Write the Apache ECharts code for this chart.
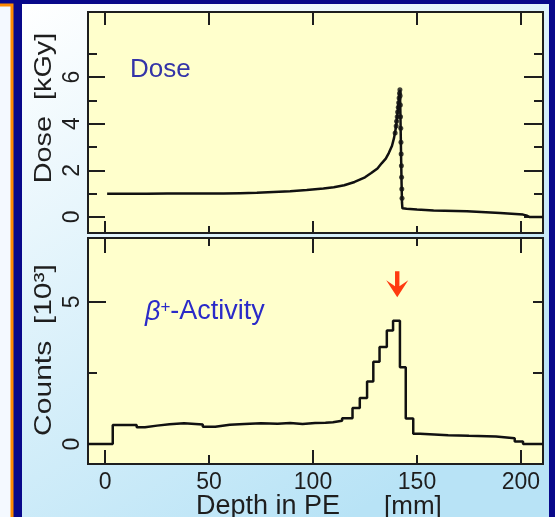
<!DOCTYPE html>
<html>
<head>
<meta charset="utf-8">
<script src="https://cdn.jsdelivr.net/npm/echarts@6/dist/echarts.min.js"></script>
<style>
html,body{margin:0;padding:0;background:#08088a;}
#main{width:555px;height:517px;}
</style>
</head>
<body>
<div id="main"></div>
<script>
// dose profile (upper panel), depth in mm
var depthDose = [1, 10, 20, 30, 40, 50, 57, 65, 73, 81, 89, 97, 105, 110, 115, 120, 125, 128, 131, 133, 135, 136.5, 138, 139, 139.8, 140.5, 141, 141.5, 141.8, 142, 142.2, 142.4, 142.6, 142.8, 143, 145, 150, 158, 174, 190, 201, 203, 204, 210.6];
var dose = [0.99, 0.99, 0.99, 1.0, 1.0, 1.0, 1.0, 1.02, 1.04, 1.07, 1.1, 1.15, 1.22, 1.27, 1.36, 1.5, 1.7, 1.88, 2.08, 2.3, 2.5, 2.75, 3.05, 3.4, 3.8, 4.3, 4.8, 5.2, 5.45, 4.6, 3.5, 2.4, 1.4, 0.6, 0.37, 0.35, 0.32, 0.28, 0.24, 0.17, 0.1, 0.05, 0.0, 0.0];
// measured points crowded round the peak
var peakX = [139.5, 140, 140.2, 140.5, 140.7, 141, 141.2, 141.4, 141.6, 141.8, 141.9, 142, 142.1, 142.2, 142.3, 142.4, 142.5, 142.6, 142.7, 142.8];
var peakY = [3.6, 3.9, 4.1, 4.3, 4.5, 4.7, 4.9, 5.1, 5.3, 5.45, 5.2, 4.8, 4.3, 3.8, 3.2, 2.7, 2.2, 1.7, 1.2, 0.8];

// beta+ activity histogram (lower panel): left bin edge, counts [10^3]
var binEdge = [-8.2, 3.7, 15.2, 19.2, 25, 31, 38, 47, 53, 60, 67, 75, 83, 89, 95, 101, 106, 109.6, 114, 119, 122.5, 126, 129, 132, 135.5, 138.5, 141.8, 144.6, 148.2, 151.5, 165, 175, 188, 197, 201, 210.6];
var counts = [0.0, 0.67, 0.59, 0.65, 0.70, 0.73, 0.69, 0.61, 0.68, 0.71, 0.73, 0.72, 0.74, 0.71, 0.74, 0.75, 0.77, 0.82, 0.91, 1.27, 1.62, 2.2, 2.9, 3.42, 4.0, 4.34, 2.7, 0.9, 0.36, 0.31, 0.29, 0.27, 0.21, 0.09, 0.0, 0.0];

var xMajor = [0, 100, 200];
var xMinor = [50, 150];
var xLabels = [0, 50, 100, 150, 200];
var doseMajor = [0, 2, 4, 6];
var doseMinor = [1, 3, 5, 7];
var cntMajor = [0, 5];
var cntMinor = [2.5];
var cntRight = [2.5, 5];

var arrowAt = [140.5, 5.62];

var txt = '#1e1e1e';
var font = 'Liberation Sans, Arial, sans-serif';

function zip(a, b) {
    var out = [];
    for (var i = 0; i < a.length; i++) out.push([a[i], b[i]]);
    return out;
}

function xAx(grid, pos, ticks, len, labels) {
    return {
        type: 'value', gridIndex: grid, position: pos, min: -8.2, max: 210.6,
        axisLine: {show: false, onZero: false}, splitLine: {show: false},
        axisTick: {show: true, inside: true, length: len, customValues: ticks,
            lineStyle: {color: txt, width: 2}},
        axisLabel: labels ? {show: true, customValues: labels, margin: 7,
            fontSize: 23, color: txt, fontFamily: font} : {show: false}
    };
}

function yAx(grid, pos, min, max, ticks, len, labels) {
    return {
        type: 'value', gridIndex: grid, position: pos, min: min, max: max,
        axisLine: {show: false, onZero: false}, splitLine: {show: false},
        axisTick: {show: true, inside: true, length: len, customValues: ticks,
            lineStyle: {color: txt, width: 2}},
        axisLabel: labels ? {show: true, customValues: labels, rotate: 90, margin: 4,
            fontSize: 23, color: txt, fontFamily: font} : {show: false}
    };
}

var myChart = echarts.init(document.getElementById('main'));
var option = {
    backgroundColor: '#08088a',
    animation: false,
    graphic: [
        {type: 'rect', z: -10, shape: {x: -4, y: 5, width: 16, height: 520},
            style: {fill: '#f4f9ff', stroke: '#ff8a00', lineWidth: 3}},
        {type: 'rect', z: -10, shape: {x: 22, y: 4, width: 527, height: 520},
            style: {fill: {type: 'linear', x: 0, y: 0, x2: 0.6, y2: 1,
                colorStops: [{offset: 0, color: '#ffffff'}, {offset: 1, color: '#b8e3f6'}]}}},
        {type: 'text', z: 50, x: 44, y: 108, rotation: Math.PI / 2, scaleX: 1.2,
            style: {text: 'Dose  [kGy]', fill: txt, font: '24px ' + font,
                textAlign: 'center', textVerticalAlign: 'middle'}},
        {type: 'text', z: 50, x: 44, y: 350, rotation: Math.PI / 2, scaleX: 1.25,
            style: {text: 'Counts  [10³]', fill: txt, font: '24px ' + font,
                textAlign: 'center', textVerticalAlign: 'middle'}},
        {type: 'text', z: 50, x: 196, y: 507,
            style: {text: 'Depth in PE', fill: txt, font: '27px ' + font,
                textVerticalAlign: 'middle'}},
        {type: 'text', z: 50, x: 384, y: 507,
            style: {text: '[mm]', fill: txt, font: '26px ' + font,
                textVerticalAlign: 'middle'}},
        {type: 'text', z: 50, x: 130, y: 70,
            style: {text: 'Dose', fill: '#3434a8', font: '26px ' + font,
                textVerticalAlign: 'middle'}},
        {type: 'text', z: 50, x: 145, y: 312,
            style: {text: '{b|β}{s|+}{n|-Activity}', textVerticalAlign: 'middle',
                rich: {
                    b: {fill: '#2a2ac8', font: 'italic 27px ' + font},
                    s: {fill: '#2a2ac8', font: '17px ' + font, verticalAlign: 'top', padding: [0, 0, 8, 0]},
                    n: {fill: '#2a2ac8', font: '27px ' + font}
                }}}
    ],
    grid: [
        {left: 88, right: 12, top: 12, height: 221, show: true,
            backgroundColor: '#ffffcc', borderColor: '#1e1e1e', borderWidth: 2},
        {left: 88, right: 12, top: 238, height: 226, show: true,
            backgroundColor: '#ffffcc', borderColor: '#1e1e1e', borderWidth: 2}
    ],
    xAxis: [
        xAx(0, 'bottom', xMajor, 12),
        xAx(0, 'bottom', xMinor, 7),
        xAx(0, 'top', xLabels, 13),
        xAx(1, 'top', xMajor, 15),
        xAx(1, 'top', xMinor, 8),
        xAx(1, 'bottom', xMajor, 14, xLabels),
        xAx(1, 'bottom', xMinor, 9)
    ],
    yAxis: [
        yAx(0, 'left', -0.69, 8.79, doseMajor, 17, doseMajor),
        yAx(0, 'left', -0.69, 8.79, doseMinor, 9),
        yAx(0, 'right', -0.69, 8.79, doseMajor, 19),
        yAx(0, 'right', -0.69, 8.79, doseMinor, 9),
        yAx(1, 'left', -0.70, 7.25, cntMajor, 18, cntMajor),
        yAx(1, 'left', -0.70, 7.25, cntMinor, 9),
        yAx(1, 'right', -0.70, 7.25, cntRight, 10)
    ],
    series: [
        {
            name: 'Dose', type: 'line', xAxisIndex: 0, yAxisIndex: 0,
            data: zip(depthDose, dose), symbol: 'none',
            lineStyle: {color: '#111', width: 2.5}
        },
        {
            name: 'Dose points', type: 'scatter', xAxisIndex: 0, yAxisIndex: 0,
            data: zip(peakX, peakY), symbolSize: 5,
            itemStyle: {color: '#111'}
        },
        {
            name: 'Activity', type: 'line', step: 'end', xAxisIndex: 5, yAxisIndex: 4,
            data: zip(binEdge, counts), symbol: 'none',
            lineStyle: {color: '#111', width: 2.5},
            markPoint: {
                data: [{coord: arrowAt}],
                symbol: 'path://M9,0 L13,0 L13,15 L21,9 L11,26 L1,9 L9,15 Z',
                symbolSize: [22, 26],
                itemStyle: {color: '#ff3a10'},
                label: {show: false}
            }
        }
    ]
};
myChart.setOption(option);
</script>
</body>
</html>
